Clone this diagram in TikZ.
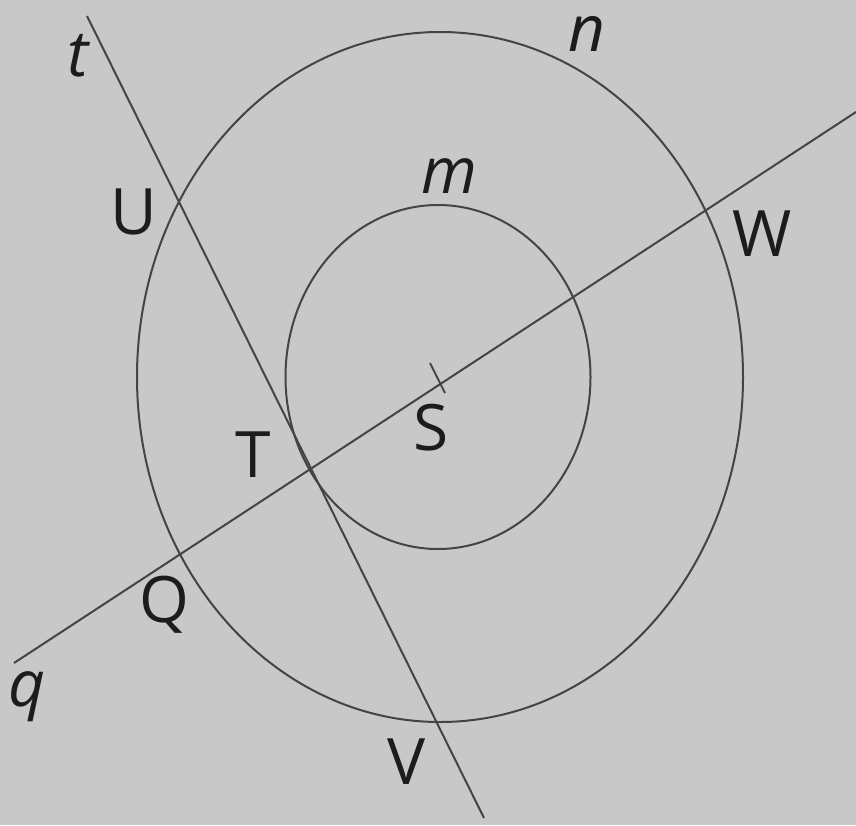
\documentclass[tikz,border=0pt]{standalone}
\usepackage{fontspec}
\setmainfont{Open Sans}
\begin{document}
\begin{tikzpicture}[x=1pt,y=-1pt,
  geo/.style={draw=linegray,line width=2pt},
  lbl/.style={inner sep=0pt,text=labelblack,font=\fontsize{64}{70}\selectfont},
  ilbl/.style={lbl,font=\fontsize{64}{70}\selectfont\itshape}]
\definecolor{bggray}{RGB}{200,200,201}
\definecolor{linegray}{RGB}{68,68,72}
\definecolor{labelblack}{RGB}{28,28,30}
\fill[bggray] (0,0) rectangle (856,825);
\useasboundingbox (0,0) rectangle (856,825);
% points
\coordinate (S) at (438,377);
\coordinate (O) at (440,377);
\coordinate (t1) at (87,16);
\coordinate (t2) at (484,818);
\coordinate (q1) at (14,663);
\coordinate (q2) at (856,112);
\coordinate (k1) at (430,363);
\coordinate (k2) at (445,393);
% circles
\draw[geo] (O) ellipse [x radius=303, y radius=345];
\draw[geo] (S) ellipse [x radius=152.5, y radius=172];
% lines
\draw[geo] (t1) -- (t2);
\draw[geo] (q1) -- (q2);
\draw[geo] (k1) -- (k2);
% labels
\node[ilbl] (lt) at (78,56) {t};
\node[ilbl] (ln) at (587,34) {n};
\node[ilbl] (lm) at (449,176) {m};
\node[ilbl] (lq) at (27,697) {q};
\node[lbl] (lU) at (134,212) {U};
\node[lbl] (lW) at (762,234) {W};
\node[lbl] (lS) at (431,428) {S};
\node[lbl] (lT) at (253,455) {T};
\node[lbl] (lQ) at (164,605) {Q};
\node[lbl] (lV) at (407,762) {V};
\end{tikzpicture}
\end{document}
